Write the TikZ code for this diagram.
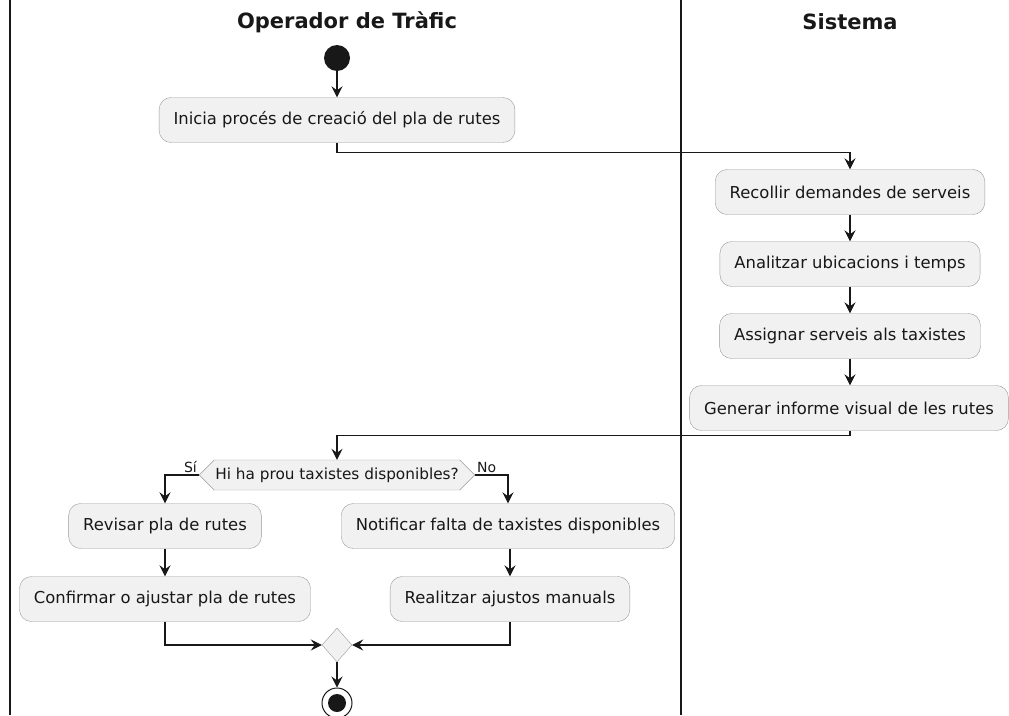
\documentclass[tikz,border=0pt]{standalone}
\usepackage{fontspec}
\setmainfont{DejaVu Sans}
\usetikzlibrary{arrows.meta, shapes.geometric, shapes.symbols}

\definecolor{boxfill}{HTML}{F1F1F1}
\definecolor{boxline}{HTML}{9A9A9A}
\definecolor{ink}{HTML}{181818}

\tikzset{
    action/.style = {draw = boxline, fill = boxfill, rounded corners = 12pt,
                     minimum height = 45pt, inner xsep = 14.5pt,
                     font = \fontsize{16.4}{18}\selectfont, text = ink},
    decide/.style = {draw = boxline, fill = boxfill, signal, signal to = east and west,
                     minimum height = 30pt, inner xsep = 1pt,
                     font = \fontsize{15.3}{17}\selectfont, text = ink},
    merge/.style  = {draw = boxline, fill = boxfill, diamond, inner sep = 0,
                     minimum width = 30pt, minimum height = 34pt},
    flow/.style   = {ink, line width = 1.1pt,
                     -{Stealth[length = 11pt, width = 11pt, inset = 4pt]}},
    lane/.style   = {ink, line width = 1.6pt},
    title/.style  = {font = \bfseries\fontsize{21}{25}\selectfont, text = ink},
    guard/.style  = {font = \fontsize{14}{16}\selectfont, text = ink, inner sep = 2pt}
}

\begin{document}
\begin{tikzpicture}[x = 1pt, y = -1pt]
    \useasboundingbox (0, 0) rectangle (1009, 715);

    % lanes
    \draw [lane] (10, 0)  -- (10, 715);
    \draw [lane] (681, 0) -- (681, 715);
    \node [title] (operador) at (347, 22) {Operador de Tràfic};
    \node [title] (sistema)  at (850, 22) {Sistema};

    % operador
    \node [circle, fill = ink, minimum size = 26pt, inner sep = 0] (start) at (337, 58) {};
    \node [action] (inicia) at (337, 120) {Inicia procés de creació del pla de rutes};

    % sistema
    \node [action] (recollir)  at (850, 192) {Recollir demandes de serveis};
    \node [action] (analitzar) at (850, 264) {Analitzar ubicacions i temps};
    \node [action] (assignar)  at (850, 336) {Assignar serveis als taxistes};
    \node [action] (generar)   at (849, 408) {Generar informe visual de les rutes};

    % decisio
    \node [decide] (prou) at (337, 475) {Hi ha prou taxistes disponibles?};
    \node [guard, anchor = south east] (si) at (prou.west) {Sí};
    \node [guard, anchor = south west] (no) at (prou.east) {No};

    \node [action] (revisar)    at (165, 526) {Revisar pla de rutes};
    \node [action] (confirmar)  at (165, 599) {Confirmar o ajustar pla de rutes};
    \node [action] (notificar)  at (508, 526) {Notificar falta de taxistes disponibles};
    \node [action] (realitzar)  at (510, 599) {Realitzar ajustos manuals};

    \node [merge] (junta) at (337, 645) {};
    \node [circle, draw = ink, line width = 1pt, minimum size = 30pt, inner sep = 0] (stop) at (337, 703) {};
    \node [circle, fill = ink, minimum size = 18pt, inner sep = 0] (stopdot) at (stop.center) {};

    % fluxos
    \draw [flow] (start) -- (inicia);
    \draw [flow] (inicia.south) -- ++(0, 10) -| (recollir.north);
    \draw [flow] (recollir) -- (analitzar);
    \draw [flow] (analitzar) -- (assignar);
    \draw [flow] (assignar) -- (generar.north -| assignar.south);
    \draw [flow] (generar.south -| recollir.south) -- ++(0, 5) -| (prou.north);
    \draw [flow] (prou.west) -| (revisar.north);
    \draw [flow] (prou.east) -| (notificar.north);
    \draw [flow] (revisar) -- (confirmar);
    \draw [flow] (notificar.south -| realitzar.north) -- (realitzar);
    \draw [flow] (confirmar.south) |- (junta.west);
    \draw [flow] (realitzar.south) |- (junta.east);
    \draw [flow] (junta) -- (stop);

\end{tikzpicture}
\end{document}
